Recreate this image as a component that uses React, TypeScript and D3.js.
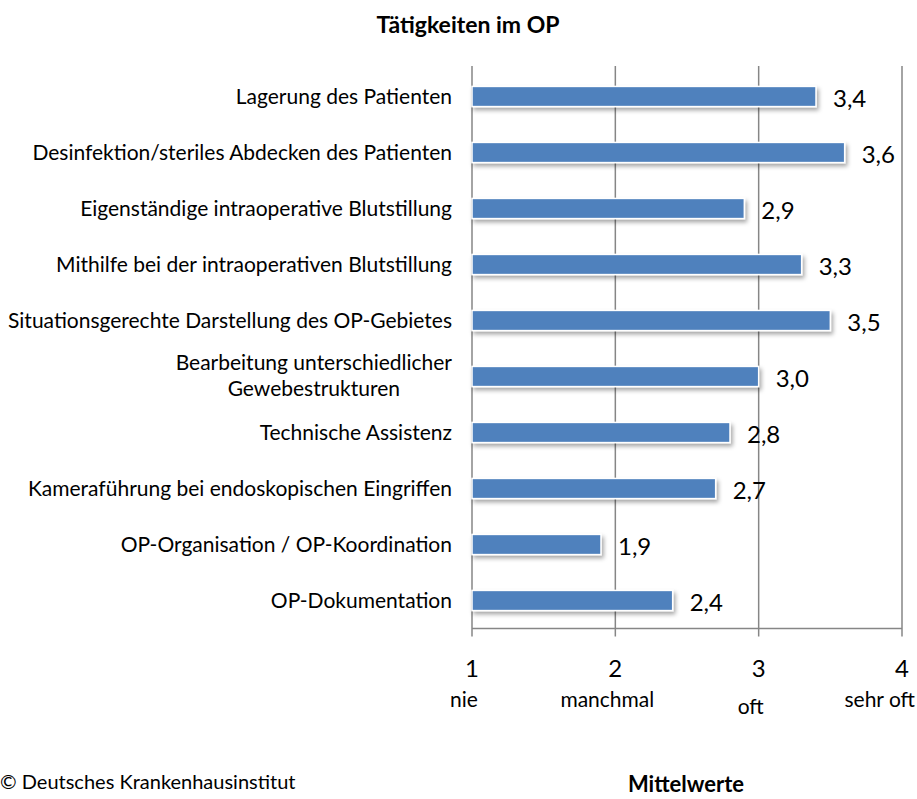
import { useEffect, useRef } from "react";
import * as d3 from "d3";

const title = "Tätigkeiten im OP";
const categories = [
  ["Lagerung des Patienten"],
  ["Desinfektion/steriles Abdecken des Patienten"],
  ["Eigenständige intraoperative Blutstillung"],
  ["Mithilfe bei der intraoperativen Blutstillung"],
  ["Situationsgerechte Darstellung des OP-Gebietes"],
  ["Bearbeitung unterschiedlicher", "Gewebestrukturen"],
  ["Technische Assistenz"],
  ["Kameraführung bei endoskopischen Eingriffen"],
  ["OP-Organisation / OP-Koordination"],
  ["OP-Dokumentation"],
];
const values = [3.4, 3.6, 2.9, 3.3, 3.5, 3.0, 2.8, 2.7, 1.9, 2.4];
const ticks = [1, 2, 3, 4];
const scaleNames = ["nie", "manchmal", "oft", "sehr oft"];
const axisTitle = "Mittelwerte";
const source = "© Deutsches Krankenhausinstitut";

export default function App() {
  const svgRef = useRef<SVGSVGElement>(null);

  useEffect(() => {
    const svg = d3.select(svgRef.current);
    svg.selectAll("*").remove();
    const w = 917;
    const h = 799;
    const font = "Lato, 'Open Sans', sans-serif";
    const left = 472, right = 902, top = 66, bottom = 628.5;

    svg.attr("width", w).attr("height", h).style("font-family", font);

    const defs = svg.append("defs");
    const f = defs.append("filter").attr("id", "shadow")
      .attr("x", "-5%").attr("y", "-30%").attr("width", "115%").attr("height", "190%");
    f.append("feDropShadow").attr("dx", 2).attr("dy", 3).attr("stdDeviation", 2)
      .attr("flood-color", "#000").attr("flood-opacity", 0.35);

    const x = d3.scaleLinear().domain([1, 4]).range([left, right]);
    const y = d3.scaleBand<number>().domain(d3.range(values.length)).range([68.5, bottom]).paddingInner(0.64).paddingOuter(0.32);

    // grid
    svg.append("g").selectAll("line").data(ticks).enter().append("line")
      .attr("x1", d => x(d)).attr("x2", d => x(d))
      .attr("y1", top).attr("y2", bottom + 8)
      .attr("stroke", "#868686").attr("stroke-width", 1.5);

    svg.append("line")
      .attr("x1", left).attr("x2", right).attr("y1", bottom).attr("y2", bottom)
      .attr("stroke", "#868686").attr("stroke-width", 1.5);

    // bars
    svg.append("g").selectAll("rect").data(values).enter().append("rect")
      .attr("x", x(1))
      .attr("y", (d, i) => y(i)!)
      .attr("width", d => x(d) - x(1))
      .attr("height", y.bandwidth())
      .attr("fill", "#4F81BD")
      .attr("stroke", "#fff").attr("stroke-width", 1.5)
      .attr("filter", "url(#shadow)");

    // value labels
    svg.append("g").selectAll("text").data(values).enter().append("text")
      .attr("x", d => x(d) + 17)
      .attr("y", (d, i) => y(i)! + y.bandwidth() / 2)
      .attr("dy", "0.45em")
      .style("font-size", "24px")
      .attr("fill", "#000")
      .text(d => d3.format(".1f")(d).replace(".", ","));

    // category labels
    const cat = svg.append("g").selectAll("text").data(categories).enter().append("text")
      .attr("text-anchor", "end")
      .style("font-size", "21px")
      .attr("fill", "#000")
      .attr("y", (d, i) => y(i)! + y.bandwidth() / 2);
    cat.each(function (lines) {
      const t = d3.select(this);
      if (lines.length === 1) {
        t.append("tspan").attr("x", 452).attr("dy", "0.35em").text(lines[0]);
      } else {
        const first = t.append("tspan").attr("x", 452).attr("dy", "-0.3em").text(lines[0]);
        const len = (first.node() as SVGTSpanElement).getComputedTextLength();
        t.append("tspan").attr("x", 452 - len / 2).attr("text-anchor", "middle")
          .attr("dy", "1.25em").text(lines[1]);
      }
    });

    // tick labels
    svg.append("g").selectAll("text").data(ticks).enter().append("text")
      .attr("x", d => x(d)).attr("y", 677)
      .attr("text-anchor", "middle")
      .style("font-size", "24px")
      .text(d => d);

    // scale names
    svg.append("g").selectAll("text").data(scaleNames).enter().append("text")
      .attr("x", (d, i) => i === 3 ? w - 2 : x(ticks[i]) - 8)
      .attr("y", (d, i) => i === 2 ? 714 : 707)
      .attr("text-anchor", (d, i) => i === 3 ? "end" : "middle")
      .style("font-size", "21px")
      .text(d => d);

    svg.append("text")
      .attr("x", 468).attr("y", 33)
      .attr("text-anchor", "middle")
      .style("font-size", "23px").style("font-weight", "bold")
      .text(title);

    svg.append("text")
      .attr("x", 686).attr("y", 792)
      .attr("text-anchor", "middle")
      .style("font-size", "22px").style("font-weight", "bold")
      .text(axisTitle);

    svg.append("text")
      .attr("x", 0).attr("y", 789)
      .style("font-size", "20px")
      .text(source);
  }, []);

  return <svg ref={svgRef} style={{ position: "absolute", left: 0, top: 0 }}></svg>;
}
